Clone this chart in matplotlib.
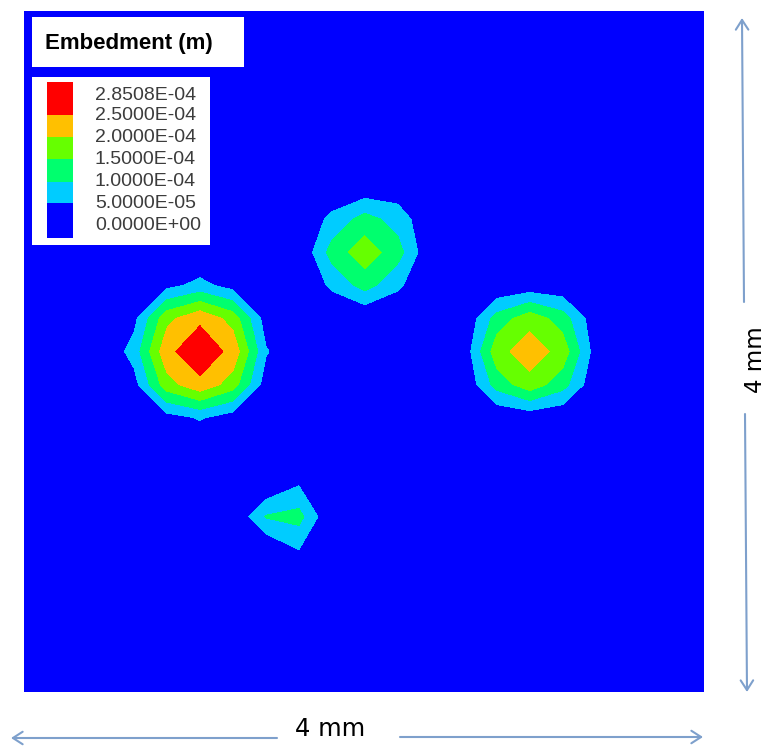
import numpy as np
import matplotlib
matplotlib.use('Agg')
import matplotlib.pyplot as plt
from matplotlib.patches import Rectangle

# contour levels in units of 1e-4 m, with the legend text
levels = [0.0, 0.5, 1.0, 1.5, 2.0, 2.5, 2.8508]
level_labels = ['0.0000E+00', '5.0000E-05', '1.0000E-04', '1.5000E-04',
                '2.0000E-04', '2.5000E-04', '2.8508E-04']
band_colors = ['#0000FF', '#00CCFF', '#00FF6E', '#66FF00', '#FFC000', '#FF0000']

# nodal embedment (1e-4 m) around each indent, rows top->bottom
big_blob = [[0.00, 0.35, 0.65, 0.30, 0.00],
            [0.35, 1.85, 2.40, 1.80, 0.25],
            [0.70, 2.37, 2.8508, 2.35, 0.55],
            [0.30, 1.80, 2.37, 1.75, 0.25],
            [0.00, 0.30, 0.55, 0.25, 0.00]]
right_blob = [[0.00, 0.05, 0.15, 0.10, 0.00],
              [0.05, 1.20, 1.80, 1.25, 0.15],
              [0.15, 1.80, 2.30, 1.80, 0.25],
              [0.05, 1.20, 1.80, 1.20, 0.10],
              [0.00, 0.05, 0.15, 0.05, 0.00]]
top_blob = [[0.00, 0.00, 0.10, 0.15, 0.00],
            [0.00, 0.65, 1.20, 0.80, 0.05],
            [0.00, 1.20, 1.80, 1.20, 0.05],
            [0.00, 0.60, 1.20, 0.60, 0.00],
            [0.00, 0.00, 0.00, 0.00, 0.00]]
small_blob = [[0.00, 0.45, 0.00],
              [1.04, 1.18, 0.00],
              [0.00, 0.50, 0.00]]
# centre node of each patch (column, row-down) relative to the big indent
blob_centres = [(0, 0), (10, 0), (5, -3), (3, 5)]

# mesh (mm)
h = 0.194
x0, y0 = 1.035, 2.0
cols = np.arange(-6, 17)
rows = np.arange(-11, 12)
xs = x0 + h * cols
ys = y0 - h * rows

Z = np.zeros((len(rows), len(cols)))
for patch, (ci, ri) in zip([big_blob, right_blob, top_blob, small_blob], blob_centres):
    p = np.array(patch)
    r0 = ri - rows[0] - p.shape[0] // 2
    c0 = ci - cols[0] - p.shape[1] // 2
    Z[r0:r0 + p.shape[0], c0:c0 + p.shape[1]] = np.maximum(
        Z[r0:r0 + p.shape[0], c0:c0 + p.shape[1]], p)

W, H = 768, 746
fig = plt.figure(figsize=(W / 100, H / 100), dpi=100)
fig.patch.set_facecolor('white')

# blue plate, 4 mm x 4 mm
ax = fig.add_axes([24 / W, (H - 692) / H, 680 / W, 681 / H])
ax.set_facecolor('#0000FF')
ax.contourf(xs, ys[::-1], Z[::-1], levels=levels, colors=band_colors)
ax.set_xlim(0, 4)
ax.set_ylim(0, 4)
ax.axis('off')

# overlay in pixel coords for legend and dimension arrows
ov = fig.add_axes([0, 0, 1, 1], zorder=5)
ov.set_xlim(0, W)
ov.set_ylim(H, 0)
ov.axis('off')
ov.patch.set_alpha(0)

ov.add_patch(Rectangle((32, 17), 212, 50, facecolor='white', edgecolor='none'))
ov.text(45, 43, 'Embedment (m)', family='Liberation Sans', fontweight='bold',
        fontsize=16, va='center', ha='left', color='black')

ov.add_patch(Rectangle((32, 77), 178, 168, facecolor='white', edgecolor='none'))
swatch_edges = [238, 203, 182, 159, 137, 115, 82]
for k, c in enumerate(band_colors):
    ov.add_patch(Rectangle((47, swatch_edges[k + 1]), 26,
                           swatch_edges[k] - swatch_edges[k + 1],
                           facecolor=c, edgecolor='none'))
label_y = [226, 203, 182, 159, 137, 115, 95]
for lab, yy in zip(level_labels, label_y):
    ov.text(95, yy, lab, family='Liberation Sans', fontsize=14,
            va='center', ha='left', color='#3C3C3C')

# dimension arrows
acol = '#7EA0CC'
aprops = dict(arrowstyle='->,head_length=0.7,head_width=0.45', color=acol, lw=1.5,
              shrinkA=0, shrinkB=0)
ov.annotate('', xy=(11, 738), xytext=(277, 738), arrowprops=aprops)
ov.annotate('', xy=(703, 737), xytext=(400, 737), arrowprops=aprops)
ov.annotate('', xy=(742, 18), xytext=(744, 302), arrowprops=aprops)
ov.annotate('', xy=(747, 692), xytext=(745, 414), arrowprops=aprops)

ov.text(330, 729, '4 mm', family='DejaVu Sans', fontsize=17.5,
        ha='center', va='center', color='black')
ov.text(755, 360, '4 mm', family='DejaVu Sans', fontsize=16.5,
        ha='center', va='center', rotation=90, color='black')

fig.savefig('out.png', dpi=100, facecolor='white')
